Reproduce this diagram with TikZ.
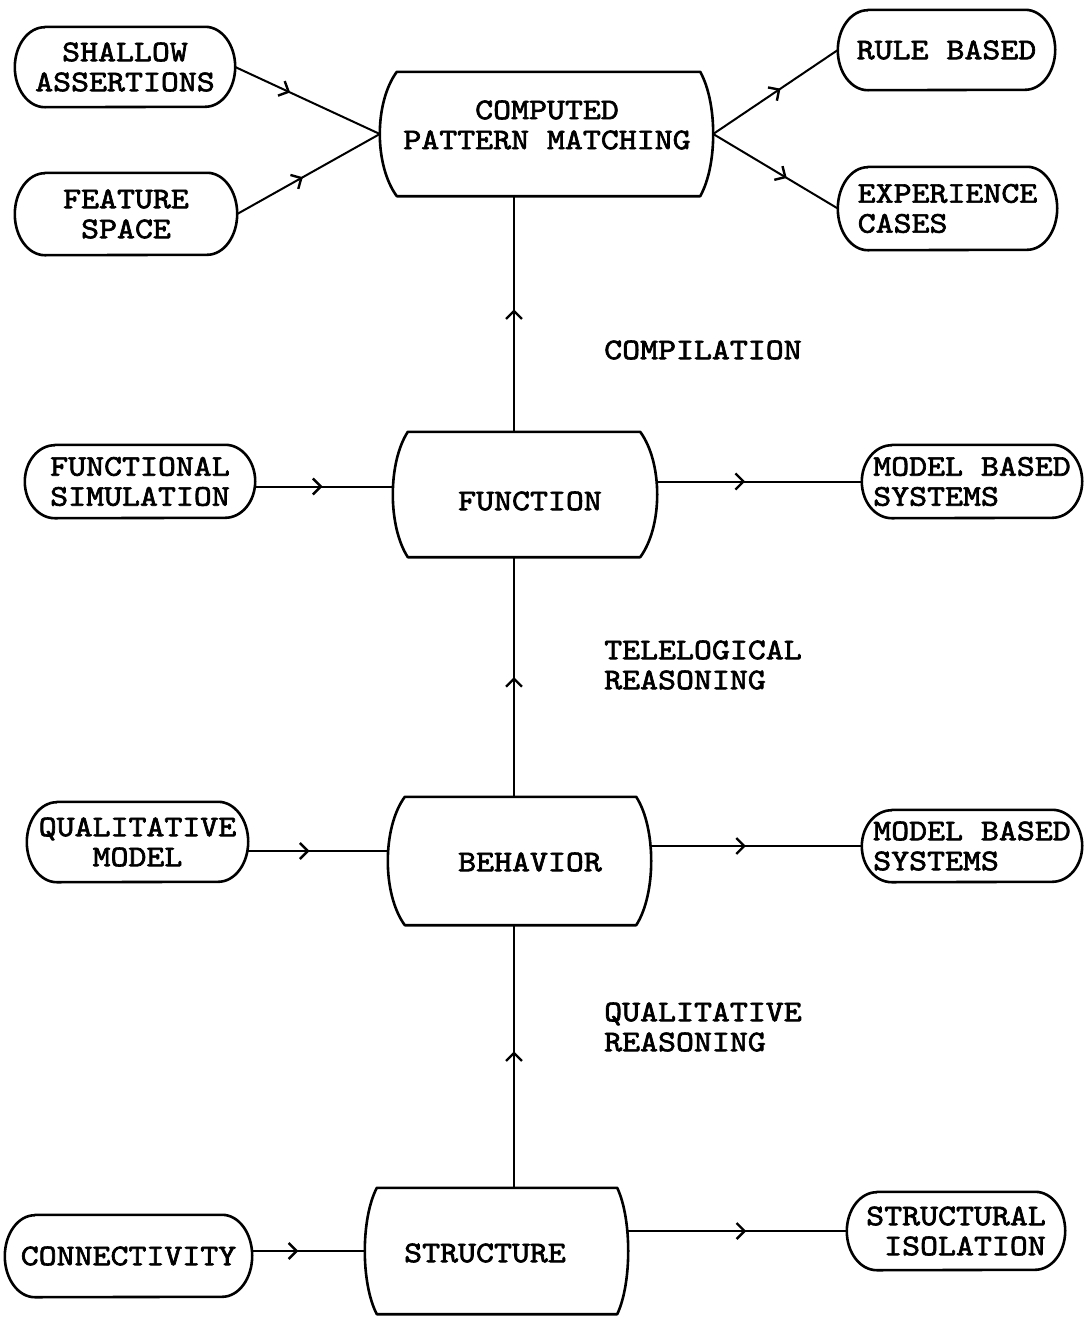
\documentclass[tikz,border=0pt]{standalone}
\usepackage{fontspec}
\newfontfamily\tw{lmmono10-regular.otf}[FakeStretch=1.14, FakeBold=2.2]
\usetikzlibrary{arrows.meta,decorations.markings,calc}

\tikzset{
  boxline/.style={line width=2.6pt, line join=round},
  conn/.style={line width=2pt},
  lbl/.style={font=\tw\fontsize{30}{30}\selectfont, inner sep=0pt},
  shapebox/.style={inner sep=0pt, draw=none},
  midarrow/.style={postaction={decorate},
    decoration={markings, mark=at position #1 with
      {\arrow{Straight Barb[length=8pt,width=16pt,line width=2.4pt]}}}},
  midarrow/.default=0.5,
}

% barrel-shaped box: straight top/bottom, bulging sides
% #1 node name, #2 left corner inset, #3 right corner inset
\newcommand\barrel[3]{%
  \draw[boxline] ($(#1.north west)+(#2,0)$) -- ($(#1.north east)+(-#3,0)$)
    .. controls ($(#1.north east)+(#3/3,31)$) and ($(#1.south east)+(#3/3,-31)$)
    .. ($(#1.south east)+(-#3,0)$)
    -- ($(#1.south west)+(#2,0)$)
    .. controls ($(#1.south west)+(-#2/3,-31)$) and ($(#1.north west)+(-#2/3,31)$)
    .. ($(#1.north west)+(#2,0)$) -- cycle;
}

% stadium-shaped box holding its text
% #1 name, #2 x, #3 y, #4 width, #5 height, #6 options, #7 text
\newcommand\pillnode[7]{%
  \node[lbl, align=center, minimum width=#4pt, minimum height=#5pt, #6] (#1) at (#2,#3) {#7};
  \draw[boxline] ($(#1.north west)+(30,0)$) -- ($(#1.north east)+(-30,0)$)
    arc[start angle=90, end angle=-90, x radius=30pt, y radius=#5pt/2]
    -- ($(#1.south west)+(30,0)$)
    arc[start angle=270, end angle=90, x radius=30pt, y radius=#5pt/2] -- cycle;
}

\begin{document}
\begin{tikzpicture}[x=1pt, y=-1pt]
\path[fill=white] (0,0) rectangle (1084,1317);
\useasboundingbox (0,0) rectangle (1084,1317);

% central column
\node[shapebox, minimum width=333pt, minimum height=124pt] (cpm) at (546.5,134) {};
\barrel{cpm}{17}{13}
\node[lbl, align=center] (cpmtext) at (547,125) {COMPUTED\\PATTERN MATCHING};

\node[shapebox, minimum width=264pt, minimum height=125pt] (fn) at (525,494.5) {};
\barrel{fn}{15}{17}
\node[lbl] (fntext) at (530,501) {FUNCTION};

\node[shapebox, minimum width=263pt, minimum height=128pt] (bh) at (519.5,861) {};
\barrel{bh}{17}{15}
\node[lbl] (bhtext) at (530,862) {BEHAVIOR};

\node[shapebox, minimum width=263pt, minimum height=126pt] (st) at (496.5,1251) {};
\barrel{st}{12}{11}
\node[lbl] (sttext) at (485,1253) {STRUCTURE};

% left inputs
\pillnode{sa}{125}{67}{220}{80}{}{SHALLOW\\ASSERTIONS}
\pillnode{fs}{126}{214}{222}{82}{}{FEATURE\\SPACE}
\pillnode{funsim}{140}{481.5}{230}{73}{}{FUNCTIONAL\\SIMULATION}
\pillnode{qm}{137.5}{842}{221}{80}{}{QUALITATIVE\\MODEL}
\pillnode{conn}{128.5}{1256}{247}{82}{}{CONNECTIVITY}

% right outputs
\pillnode{rb}{946.5}{50}{217}{80}{}{RULE BASED}
\pillnode{ec}{947.5}{208.5}{219}{83}{align=left}{EXPERIENCE\\CASES}
\pillnode{mbsa}{972}{481.5}{220}{73}{align=left}{MODEL BASED\\SYSTEMS}
\pillnode{mbsb}{972}{846}{220}{72}{align=left}{MODEL BASED\\SYSTEMS}
\pillnode{si}{956}{1231}{218}{78}{align=right}{STRUCTURAL\\ISOLATION}

% level labels
\node[lbl, anchor=west] (compil) at (604,350) {COMPILATION};
\node[lbl, anchor=west, align=left] (telreas) at (604,665) {TELELOGICAL\\REASONING};
\node[lbl, anchor=west, align=left] (qualreas) at (604,1027) {QUALITATIVE\\REASONING};

% connectors into and out of the pattern matcher
\draw[conn, midarrow=0.38] (sa.east) -- (cpm.west);
\draw[conn, midarrow=0.46] (fs.east) -- (cpm.west);
\draw[conn, midarrow=0.54] (cpm.east) -- (rb.west);
\draw[conn, midarrow=0.59] (cpm.east) -- (ec.west);

% vertical spine
\coordinate (spine) at (514,0);
\draw[conn, midarrow=0.52] (spine |- fn.north) -- (spine |- cpm.south);
\draw[conn, midarrow=0.5] (spine |- bh.north) -- (spine |- fn.south);
\draw[conn, midarrow=0.52] (spine |- st.north) -- (spine |- bh.south);

% side connectors
\draw[conn, midarrow=0.49] ([yshift=-5pt]funsim.east) -- ([yshift=-5pt]funsim.east -| fn.west);
\draw[conn, midarrow=0.43] (fn.east |- mbsa.west) -- (mbsa.west);
\draw[conn, midarrow=0.44] ([yshift=-9pt]qm.east) -- ([yshift=-9pt]qm.east -| bh.west);
\draw[conn, midarrow=0.45] (bh.east |- mbsb.west) -- (mbsb.west);
\draw[conn, midarrow=0.41] ([yshift=5pt]conn.east) -- ([yshift=5pt]conn.east -| st.west);
\draw[conn, midarrow=0.54] (st.east |- si.west) -- (si.west);
\end{tikzpicture}
\end{document}
